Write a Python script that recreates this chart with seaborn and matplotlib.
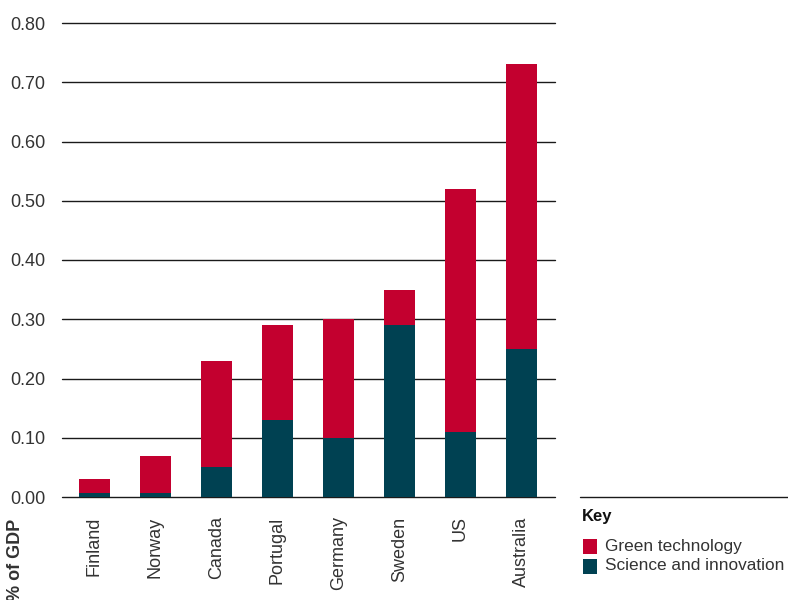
import matplotlib
matplotlib.use("Agg")
import matplotlib.pyplot as plt
from matplotlib.lines import Line2D
from matplotlib.patches import Rectangle
import seaborn as sns
import pandas as pd

countries = ["Finland", "Norway", "Canada", "Portugal", "Germany", "Sweden", "US", "Australia"]
science = [0.007, 0.007, 0.05, 0.13, 0.10, 0.29, 0.11, 0.25]
green = [0.023, 0.063, 0.18, 0.16, 0.20, 0.06, 0.41, 0.48]
yticks = [0.0, 0.1, 0.2, 0.3, 0.4, 0.5, 0.6, 0.7, 0.8]
series_names = ["Green technology", "Science and innovation"]

RED = "#C3002F"
TEAL = "#004152"
TEXT = "#333333"
W, H = 788, 600

sns.set_theme(style="white")
plt.rcParams["font.family"] = ["Liberation Sans", "DejaVu Sans"]

df = pd.DataFrame({
    "country": countries,
    "science": science,
    "total": [s + g for s, g in zip(science, green)],
})

fig = plt.figure(figsize=(W / 100, H / 100), dpi=100)
ax = fig.add_axes([62 / W, 1 - 497 / H, (555 - 62) / W, 474 / H])

# stacked bars: full height in red, science share drawn over it in teal
sns.barplot(data=df, x="country", y="total", order=countries, color=RED,
            width=0.5, saturation=1, linewidth=0, ax=ax, zorder=3)
sns.barplot(data=df, x="country", y="science", order=countries, color=TEAL,
            width=0.5, saturation=1, linewidth=0, ax=ax, zorder=3)

ax.set_ylim(0, 0.8)
ax.set_xlim(-0.53, 7.55)
ax.set_yticks(yticks)
ax.set_yticklabels([f"{v:.2f}" for v in yticks])
ax.set_xlabel("")
ax.set_ylabel("")
ax.grid(axis="y", color="#1a1a1a", linewidth=1.0)
ax.grid(axis="x", visible=False)
ax.set_axisbelow(True)
for gl in ax.get_ygridlines():
    gl.set_clip_on(False)
for sp in ax.spines.values():
    sp.set_visible(False)
ax.tick_params(axis="y", length=0, pad=12, labelsize=13, labelcolor=TEXT)
ax.tick_params(axis="x", length=0, pad=14, labelsize=13, labelcolor=TEXT,
               labelrotation=90)

fig.text(16 / W, 1 - 519 / H, "% of GDP", rotation=90, ha="center", va="top",
         fontsize=13, fontweight="bold", color=TEXT)

# key panel on the right
fig.add_artist(Line2D([580 / W, 1.0], [1 - 497 / H] * 2, color="#1a1a1a",
                      linewidth=1.0, transform=fig.transFigure))
fig.text(582 / W, 1 - 516 / H, "Key", ha="left", va="center",
         fontsize=12, fontweight="bold", color="#111111")
for i, (name, col) in enumerate(zip(series_names, [RED, TEAL])):
    yc = 546 + 20 * i
    fig.add_artist(Rectangle((583 / W, 1 - (yc + 7.5) / H), 14 / W, 15 / H,
                             facecolor=col, edgecolor="none",
                             transform=fig.transFigure))
    fig.text(605 / W, 1 - yc / H, name, ha="left", va="center",
             fontsize=12.4, color=TEXT)

fig.savefig("out.png", dpi=100)
